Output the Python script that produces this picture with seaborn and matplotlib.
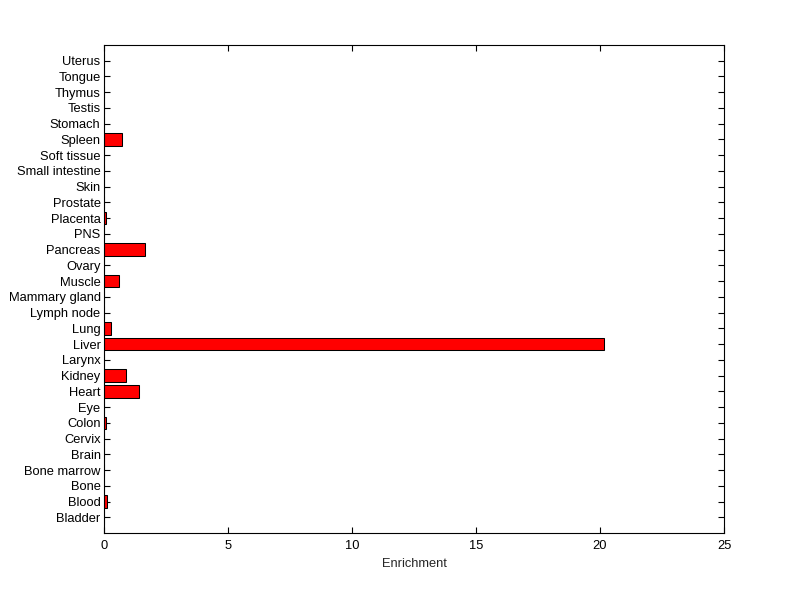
"""
Tissue enrichment bar chart (MATLAB-style look)
"""
import matplotlib
matplotlib.use('Agg')
import matplotlib.pyplot as plt
import seaborn as sns

# Tissues listed top to bottom as they appear on the chart
tissues = ['Uterus', 'Tongue', 'Thymus', 'Testis', 'Stomach', 'Spleen',
           'Soft tissue', 'Small intestine', 'Skin', 'Prostate', 'Placenta',
           'PNS', 'Pancreas', 'Ovary', 'Muscle', 'Mammary gland', 'Lymph node',
           'Lung', 'Liver', 'Larynx', 'Kidney', 'Heart', 'Eye', 'Colon',
           'Cervix', 'Brain', 'Bone marrow', 'Bone', 'Blood', 'Bladder']
enrichment = [0, 0, 0, 0, 0, 0.73,
              0, 0, 0, 0, 0.08,
              0, 1.67, 0, 0.62, 0, 0,
              0.28, 20.17, 0, 0.89, 1.42, 0, 0.08,
              0, 0, 0, 0, 0.12, 0]
x_ticks = [0, 5, 10, 15, 20, 25]


def main():
    sns.set_style('ticks')
    plt.rcParams['font.family'] = ['Liberation Sans', 'DejaVu Sans']
    plt.rcParams['font.size'] = 9.3

    fig = plt.figure(figsize=(8, 5.99), dpi=100)
    ax = fig.add_axes([0.13, 0.11, 0.775, 0.815])

    sns.barplot(x=enrichment, y=tissues, orient='h', color='red',
                saturation=1, edgecolor='black', linewidth=0.75,
                width=0.8, ax=ax)

    ax.set_xlim(0, 25)
    ax.set_xticks(x_ticks)
    ax.set_ylim(len(tissues), -1)
    ax.set_xlabel('Enrichment', fontsize=9.3, labelpad=4)
    ax.set_ylabel('')

    for side in ['top', 'right', 'left', 'bottom']:
        ax.spines[side].set_visible(True)
        ax.spines[side].set_linewidth(0.8)
        ax.spines[side].set_color('black')
    ax.tick_params(axis='both', direction='in', length=4, width=0.8,
                   top=True, right=True, labelsize=9.3, colors='black')
    ax.tick_params(axis='y', pad=2.5)
    ax.tick_params(axis='x', pad=5)

    fig.savefig('out.png', dpi=100, facecolor='white')
    plt.close(fig)


if __name__ == '__main__':
    main()
